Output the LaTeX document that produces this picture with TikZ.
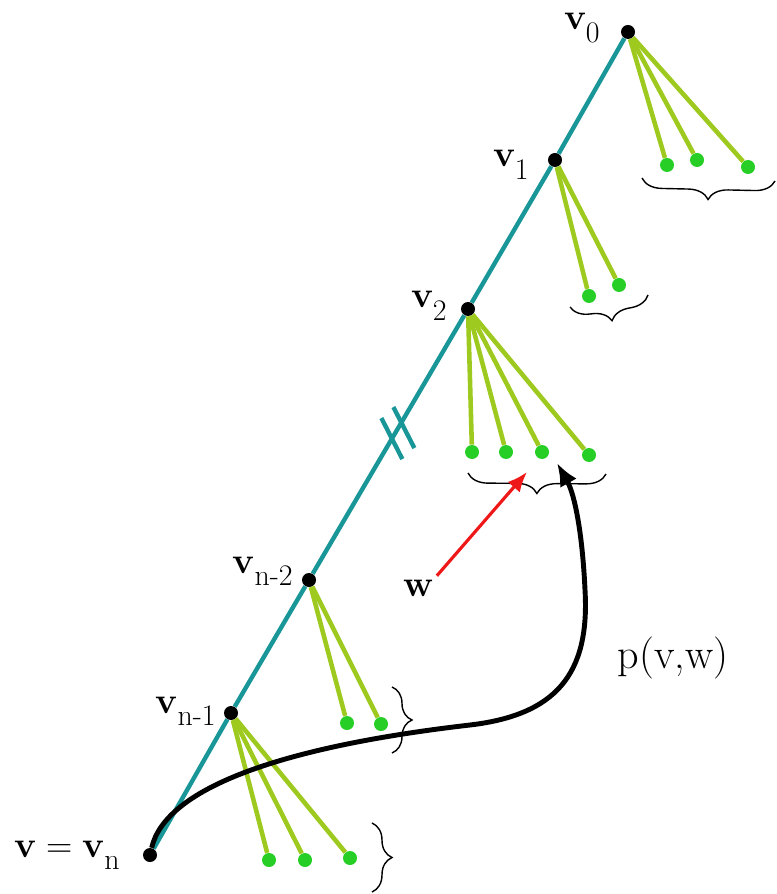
\documentclass[tikz,border=0pt]{standalone}
\usetikzlibrary{arrows.meta,calc,decorations.pathreplacing}
\definecolor{spinecol}{RGB}{25,150,152}
\definecolor{twigcol}{RGB}{158,202,32}
\definecolor{leafcol}{RGB}{38,206,38}
\definecolor{ptrred}{RGB}{238,24,24}
% bold v with a lowered index
\newcommand{\vlab}[1]{\textbf{v}\raisebox{-7pt}{\fontsize{17}{19}\selectfont #1}}
\begin{document}
\begin{tikzpicture}[
        spine/.style={draw=spinecol, line width=2.5pt},
        twig/.style={draw=twigcol, line width=2.6pt},
        vtx/.style={circle, fill=black, inner sep=0pt, minimum size=0.28cm},
        leaf/.style={circle, fill=leafcol, inner sep=0pt, minimum size=0.28cm},
        lbl/.style={font=\fontsize{21}{25}\selectfont, inner sep=0pt},
        cbrace/.style={draw, line width=0.8pt, decorate, decoration={brace, amplitude=0.4cm}},
    ]
    \useasboundingbox (0,0) rectangle (15.52,-17.88);
    % the path v_n ... v_0
    \node[vtx] (v0)  at (12.56,-0.64) {};
    \node[vtx] (v1)  at (11.10,-3.20) {};
    \node[vtx] (v2)  at (9.36,-6.18) {};
    \node[vtx] (vn2) at (6.18,-11.60) {};
    \node[vtx] (vn1) at (4.62,-14.26) {};
    \node[vtx] (vn)  at (3.00,-17.10) {};
    \draw[spine] (vn) -- (vn1) -- (vn2) -- (v2) -- (v1) -- (v0);
    % break marks on the path
    \coordinate (brk1) at ($(vn)!0.506!(v0)$);
    \coordinate (brk2) at ($(brk1)+(0.24,0.22)$);
    \draw[spine] ($(brk1)+(-0.21,0.41)$) -- ($(brk1)+(0.21,-0.41)$);
    \draw[spine] ($(brk2)+(-0.21,0.41)$) -- ($(brk2)+(0.21,-0.41)$);
    \node[lbl, anchor=base east] (lv0)  at (12.00,-0.60) {\vlab{0}};
    \node[lbl, anchor=base east] (lv1)  at (10.58,-3.34) {\vlab{1}};
    \node[lbl, anchor=base east] (lv2)  at (8.94,-6.16) {\vlab{2}};
    \node[lbl, anchor=base east] (lvn2) at (5.86,-11.46) {\vlab{n-2}};
    \node[lbl, anchor=base east] (lvn1) at (4.32,-14.26) {\vlab{n-1}};
    \node[lbl, anchor=base east] (lvn)  at (2.40,-17.14) {\textbf{v}${}={}$\vlab{n}};
    % children of v_0
    \node[leaf] (l0a) at (13.34,-3.30) {};
    \node[leaf] (l0b) at (13.94,-3.20) {};
    \node[leaf] (l0c) at (14.96,-3.34) {};
    \draw[twig] (v0) -- (l0a);
    \draw[twig] (v0) -- (l0b);
    \draw[twig] (v0) -- (l0c);
    \draw[cbrace] (15.50,-3.62) -- (12.84,-3.56);
    % children of v_1
    \node[leaf] (l1a) at (11.78,-5.92) {};
    \node[leaf] (l1b) at (12.38,-5.70) {};
    \draw[twig] (v1) -- (l1a);
    \draw[twig] (v1) -- (l1b);
    \draw[cbrace] (12.96,-5.90) -- (11.40,-6.14);
    % children of v_2
    \node[leaf] (l2a) at (9.44,-9.04) {};
    \node[leaf] (l2b) at (10.12,-9.04) {};
    \node[leaf] (l2c) at (10.84,-9.04) {};
    \node[leaf] (l2d) at (11.78,-9.10) {};
    \draw[twig] (v2) -- (l2a);
    \draw[twig] (v2) -- (l2b);
    \draw[twig] (v2) -- (l2c);
    \draw[twig] (v2) -- (l2d);
    \draw[cbrace] (12.12,-9.48) -- (9.36,-9.46);
    % children of v_{n-2}
    \node[leaf] (l3a) at (6.94,-14.46) {};
    \node[leaf] (l3b) at (7.62,-14.48) {};
    \draw[twig] (vn2) -- (l3a);
    \draw[twig] (vn2) -- (l3b);
    \draw[cbrace] (7.84,-13.74) -- (7.84,-15.06);
    % children of v_{n-1}
    \node[leaf] (l4a) at (5.38,-17.20) {};
    \node[leaf] (l4b) at (6.10,-17.20) {};
    \node[leaf] (l4c) at (7.00,-17.16) {};
    \draw[twig] (vn1) -- (l4a);
    \draw[twig] (vn1) -- (l4b);
    \draw[twig] (vn1) -- (l4c);
    \draw[cbrace] (7.44,-16.46) -- (7.44,-17.84);
    % w and the path p(v,w)
    \node[lbl, anchor=base, inner sep=2pt] (w) at (8.36,-11.92) {\textbf{w}};
    \coordinate (wtip) at (10.54,-9.44);
    \draw[ptrred, line width=1.8pt, -{Latex[length=0.4cm, width=0.32cm]}] (w.north east) -- (wtip);
    \coordinate (ptip) at (11.14,-9.26);
    \draw[line width=2.8pt, -{Latex[length=0.46cm, width=0.38cm]}]
        (vn) .. controls (3.3,-15.8) and (5.5,-14.95) .. (9.4,-14.5)
        .. controls (11.1,-14.3) and (11.8,-13.5) .. (11.7,-11.8)
        .. controls (11.65,-10.7) and (11.5,-9.9) .. (ptip);
    \node[font=\fontsize{24}{28}\selectfont, anchor=base, inner sep=0pt] (pvw) at (13.46,-13.36) {p(v,w)};
\end{tikzpicture}
\end{document}
